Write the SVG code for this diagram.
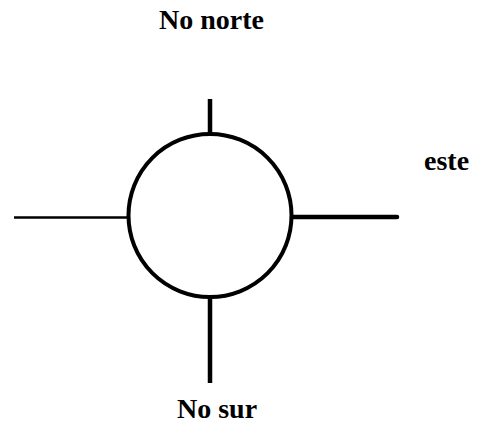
<svg xmlns="http://www.w3.org/2000/svg" width="483" height="426" viewBox="0 0 483 426">
<style>
.lbl{font-family:"Liberation Serif","Times New Roman",serif;font-weight:bold;font-size:28px;fill:#000}
.ln{stroke:#000;fill:none}
</style>
<rect width="483" height="426" fill="#fff"/>
<g id="connectors">
<line class="ln" x1="210" y1="99" x2="210" y2="134" stroke-width="4.5"/>
<line class="ln" x1="210" y1="297" x2="210" y2="383" stroke-width="4.5"/>
<line class="ln" x1="14" y1="217.5" x2="128" y2="217.5" stroke-width="2.5"/>
<line class="ln" x1="292" y1="217" x2="397" y2="217" stroke-width="4.5" stroke-linecap="round"/>
</g>
<g id="center">
<circle class="ln" cx="210" cy="215.5" r="81.5" stroke-width="4"/>
</g>
<g id="north"><text class="lbl" x="211.5" y="29" text-anchor="middle">No norte</text></g>
<g id="east"><text class="lbl" x="424" y="170">este</text></g>
<g id="south"><text class="lbl" x="217" y="418" text-anchor="middle">No sur</text></g>
</svg>
